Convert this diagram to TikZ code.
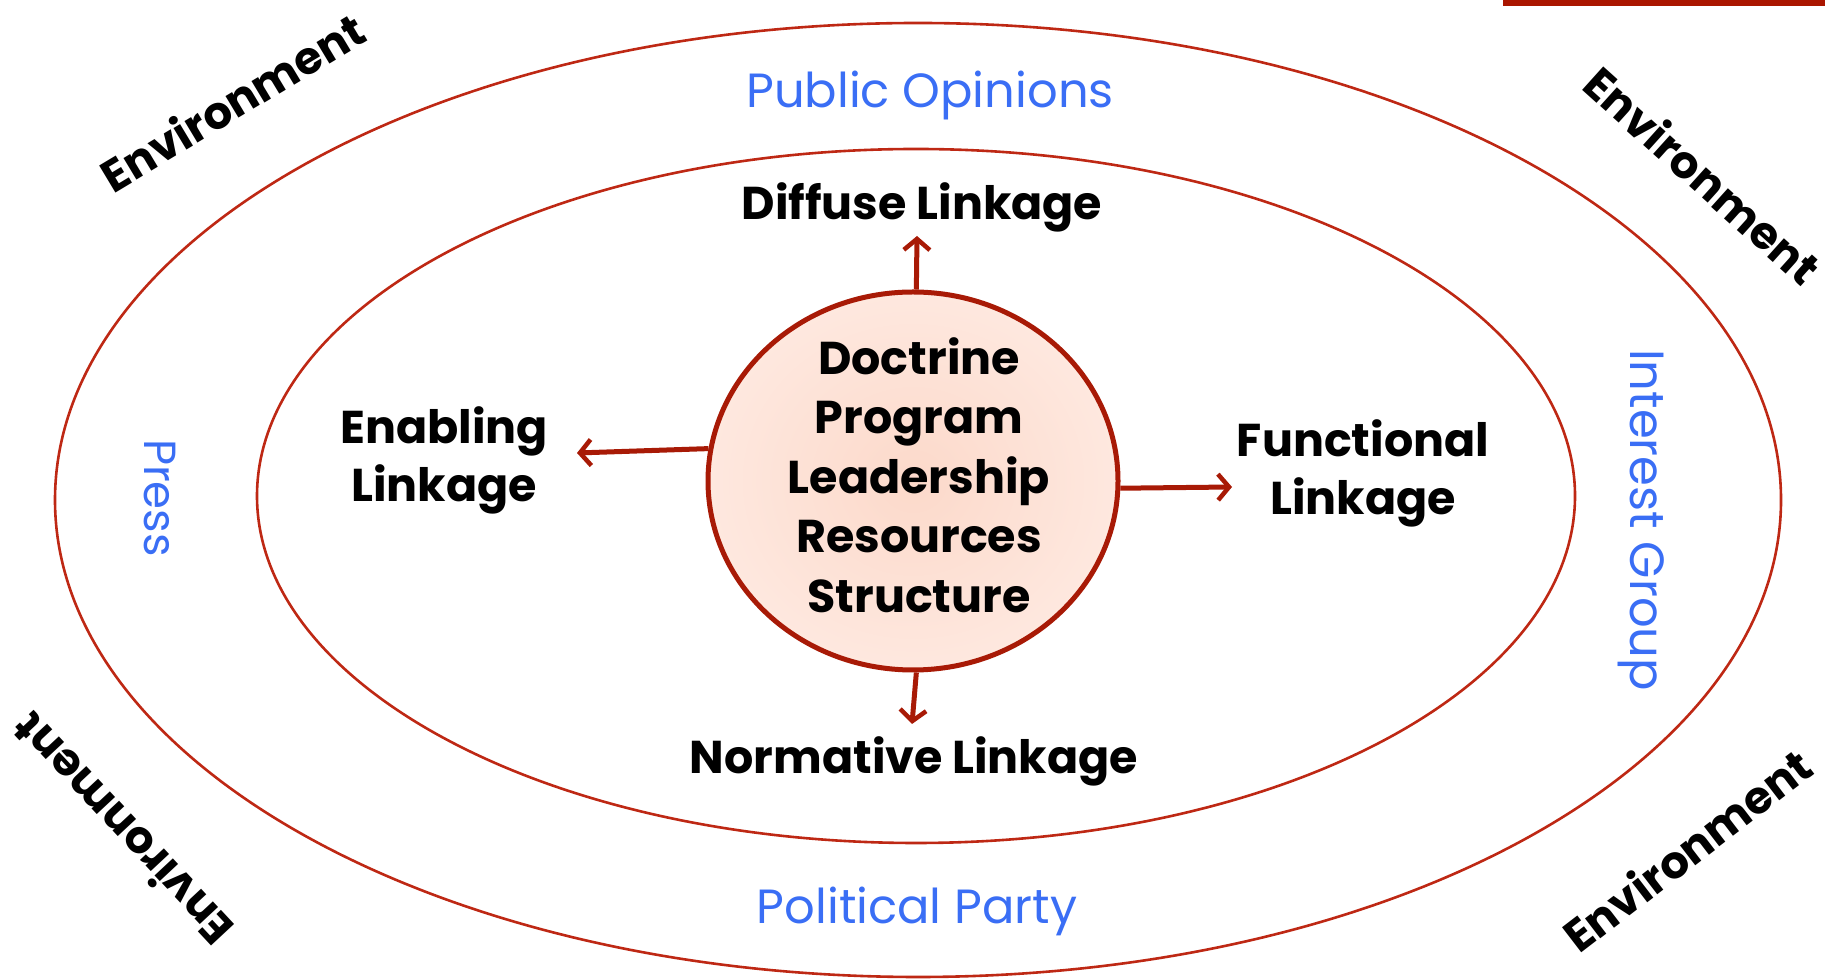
\documentclass[tikz,border=0pt]{standalone}
\usepackage{fontspec}
\setmainfont{Poppins}
\usetikzlibrary{arrows.meta,shapes.geometric}
\definecolor{ringred}{RGB}{190,40,20}
\definecolor{darkred}{RGB}{168,26,6}
\definecolor{barred}{RGB}{170,22,0}
\definecolor{peach}{RGB}{252,217,202}
\definecolor{peachlight}{RGB}{254,232,223}
\definecolor{envblue}{RGB}{58,110,245}
\tikzset{
  ring/.style={draw=ringred, line width=2.6pt},
  boldlabel/.style={font=\fontsize{46}{58}\selectfont\bfseries, align=center, inner sep=0pt},
  bluelabel/.style={font=\fontsize{48}{56}\selectfont, text=envblue, inner sep=0pt},
  envlabel/.style={font=\fontsize{45}{52}\selectfont\bfseries, inner sep=0pt},
  linkarrow/.style={draw=darkred, line width=5pt, -{Straight Barb[length=11pt,width=26pt,line width=4.5pt]}}
}
\begin{document}
\begin{tikzpicture}[x=1pt,y=1pt]
\useasboundingbox (0,0) rectangle (1825,979);
\fill[barred] (1503,973) rectangle (1825,979);
% rings
\draw[ring] (918,479) ellipse [x radius=863, y radius=477];
\draw[ring] (916,483) ellipse [x radius=659, y radius=347];
% core
\node[ellipse, minimum width=410pt, minimum height=378pt, inner sep=0pt,
      draw=darkred, line width=5pt, inner color=peach, outer color=peachlight] (core) at (913,498) {};
\node[boldlabel, font=\fontsize{46}{59.5}\selectfont\bfseries] (coretext) at (919,504)
  {Doctrine\\Program\\Leadership\\Resources\\Structure};
% linkage labels
\node[boldlabel] (diffuse) at (922,772) {Diffuse Linkage};
\node[boldlabel] (enabling) at (444,519) {Enabling\\Linkage};
\node[boldlabel] (functional) at (1363,506) {Functional\\Linkage};
\node[boldlabel] (normative) at (914,218) {Normative Linkage};
% arrows
\coordinate (diffuseTip) at (917,743);
\coordinate (enablingTip) at (577,526);
\coordinate (functionalTip) at (1232,492);
\coordinate (normativeTip) at (912,255);
\draw[linkarrow] (core.89) -- (diffuseTip);
\draw[linkarrow] (core.171) -- (enablingTip);
\draw[linkarrow] (core.-2) -- (functionalTip);
\draw[linkarrow] (core.271) -- (normativeTip);
% blue labels
\node[bluelabel] (public) at (930,884) {Public Opinions};
\node[bluelabel] (political) at (917,68) {Political Party};
\node[bluelabel, font=\fontsize{45}{52}\selectfont, rotate=-90] (press) at (160,481) {Press};
\node[bluelabel, rotate=-90] (interest) at (1641,459) {Interest Group};
% environment
\node[envlabel, rotate=31] (envTL) at (232,877) {Environment};
\node[envlabel, rotate=-42] (envTR) at (1703,804) {Environment};
\node[envlabel, rotate=133] (envBL) at (122,149) {Environment};
\node[envlabel, rotate=37.5] (envBR) at (1687,129) {Environment};
\end{tikzpicture}
\end{document}
